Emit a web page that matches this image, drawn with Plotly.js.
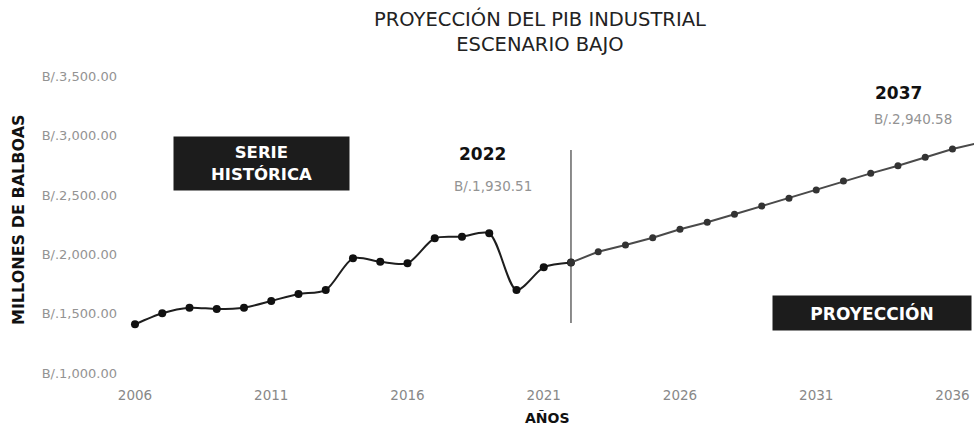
<!DOCTYPE html>
<html>
<head>
<meta charset="utf-8">
<script src="https://cdn.plot.ly/plotly-3.0.1.min.js"></script>
<style>html,body{margin:0;padding:0;background:#fff;}#chart{width:974px;height:430px;}</style>
</head>
<body>
<div id="chart"></div>
<script>
const histYears = [2006,2007,2008,2009,2010,2011,2012,2013,2014,2015,2016,2017,2018,2019,2020,2021,2022];
const histValues = [1410,1503,1550,1539,1550,1607,1666,1699,1966,1938,1924,2135,2148,2177,1699,1890,1930.51];
const projYears = [2022,2023,2024,2025,2026,2027,2028,2029,2030,2031,2032,2033,2034,2035,2036,2037];
const projValues = [1930.51,2022,2078,2140,2211,2270,2337,2407,2472,2542,2618,2682,2746,2817,2887,2940.58];
const yTickVals = [1000,1500,2000,2500,3000,3500];
const yTickText = ['B/.1,000.00','B/.1,500.00','B/.2,000.00','B/.2,500.00','B/.3,000.00','B/.3,500.00'];
const xTickVals = [2006,2011,2016,2021,2026,2031,2036];
const markerYear = 2022;
const markerLabel = 'B/.1,930.51';
const endYear = '2037';
const endLabel = 'B/.2,940.58';

const font = '"DejaVu Sans", "Open Sans", sans-serif';

const traces = [
  {x: histYears, y: histValues, type: 'scatter', mode: 'lines+markers',
   line: {color: '#1e1e1e', width: 2, shape: 'spline', smoothing: 0.8},
   marker: {color: '#111', size: 8}, hoverinfo: 'x+y', showlegend: false},
  {x: projYears, y: projValues, type: 'scatter', mode: 'lines+markers',
   line: {color: '#4a4a4a', width: 2},
   marker: {color: '#333', size: 7}, hoverinfo: 'x+y', showlegend: false}
];

const layout = {
  width: 974, height: 430,
  margin: {l: 120, r: 0, t: 60, b: 45},
  paper_bgcolor: '#fff', plot_bgcolor: '#fff',
  showlegend: false,
  xaxis: {range: [2005.45, 2036.79], tickvals: xTickVals, ticktext: xTickVals.map(String),
    showgrid: false, zeroline: false, showline: false, ticks: '',
    tickfont: {family: font, size: 13.5, color: '#888'}},
  yaxis: {range: [899, 3637], tickvals: yTickVals, ticktext: yTickText,
    showgrid: false, zeroline: false, showline: false, ticks: '', ticklabelstandoff: 2,
    tickfont: {family: font, size: 13, color: '#939393'}},
  shapes: [
    {type: 'line', xref: 'x', yref: 'y', x0: markerYear, x1: markerYear, y0: 1421, y1: 2879,
     line: {color: '#666', width: 1.5}, layer: 'below'}
  ],
  annotations: [
    {xref: 'paper', yref: 'paper', x: (540-120)/854, y: (385-32)/325, text: 'PROYECCIÓN DEL PIB INDUSTRIAL<br>ESCENARIO BAJO',
     showarrow: false, font: {family: font, size: 19.5, color: '#222'}, xanchor: 'center', yanchor: 'middle'},
    {xref: 'paper', yref: 'paper', x: (18-120)/854, y: (385-220)/325, text: '<b>MILLONES DE BALBOAS</b>', textangle: -90,
     showarrow: false, font: {family: font, size: 16, color: '#111'}, xanchor: 'center', yanchor: 'middle'},
    {xref: 'paper', yref: 'paper', x: (547-120)/854, y: (385-418)/325, text: '<b>AÑOS</b>',
     showarrow: false, font: {family: font, size: 14, color: '#111'}, xanchor: 'center', yanchor: 'middle'},
    {xref: 'paper', yref: 'paper', x: 0.1657, y: 0.6815, text: '<b>SERIE<br>HISTÓRICA</b>',
     showarrow: false, bgcolor: '#1c1c1c', width: 175, height: 53, borderpad: 0,
     font: {family: font, size: 16.5, color: '#fff'}, xanchor: 'center', yanchor: 'middle'},
    {xref: 'paper', yref: 'paper', x: 0.880, y: 0.2215, text: '<b>PROYECCIÓN</b>',
     showarrow: false, bgcolor: '#1c1c1c', width: 198, height: 34, borderpad: 0,
     font: {family: font, size: 17, color: '#fff'}, xanchor: 'center', yanchor: 'middle'},
    {xref: 'paper', yref: 'paper', x: (482-120)/854, y: (385-154)/325, text: '<b>' + markerYear + '</b>',
     showarrow: false, font: {family: font, size: 17, color: '#111'}, xanchor: 'center', yanchor: 'middle'},
    {xref: 'paper', yref: 'paper', x: (493-120)/854, y: (385-186)/325, text: markerLabel,
     showarrow: false, font: {family: font, size: 13.5, color: '#939393'}, xanchor: 'center', yanchor: 'middle'},
    {xref: 'paper', yref: 'paper', x: (898-120)/854, y: (385-93)/325, text: '<b>' + endYear + '</b>',
     showarrow: false, font: {family: font, size: 17, color: '#111'}, xanchor: 'center', yanchor: 'middle'},
    {xref: 'paper', yref: 'paper', x: (913-120)/854, y: (385-119)/325, text: endLabel,
     showarrow: false, font: {family: font, size: 13.5, color: '#939393'}, xanchor: 'center', yanchor: 'middle'}
  ]
};

Plotly.newPlot('chart', traces, layout, {displayModeBar: false, staticPlot: true});
</script>
</body>
</html>
